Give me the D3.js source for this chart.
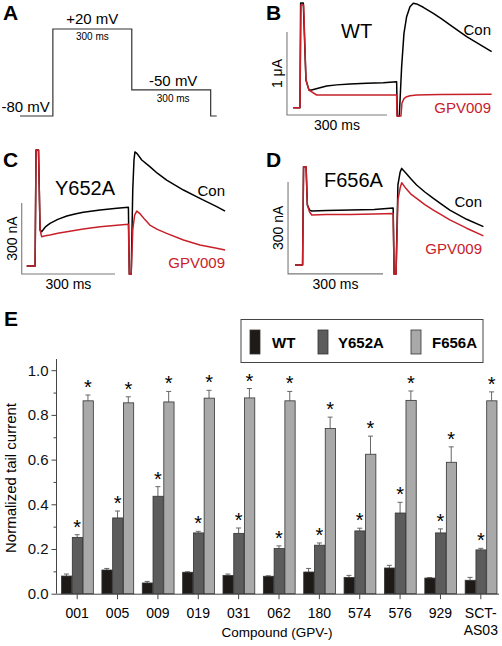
<!DOCTYPE html>
<html><head><meta charset="utf-8">
<script src="https://cdn.jsdelivr.net/npm/d3@7"></script>
<style>
html,body{margin:0;padding:0;background:#fff;}
svg{display:block;font-family:"Liberation Sans",Arial,Helvetica,sans-serif;}
</style></head>
<body>
<svg id="fig" width="502" height="646"></svg>
<script>
// ---------- DATA ----------
// Panel A: voltage protocol [time ms, mV]
const protocol = [[0,-80],[125,20],[425,-50],[725,-80],[748,-80]];
const protocolLabels = ["-80 mV","+20 mV","-50 mV"];
const stepDurationLabel = "300 ms";

// Panels B-D: current traces [time ms, current nA]
const traceB_con = [[0,0],[20,0],[22,1262],[30,1262],[38,334],[47,212],[55,213],[80,240],[100,261],[130,275],[170,286],[220,295],[270,301],[310,313],[312,-100],[318,-100],[325,494],[332,896],[340,1097],[350,1217],[360,1258],[370,1250],[390,1210],[420,1137],[445,1070],[470,997],[520,856],[570,735],[595,675]];
const traceB_gpv = [[0,0],[20,0],[23,1237],[31,1237],[38,334],[47,212],[70,153],[200,153],[310,153],[311,-100],[323,-100],[326,57],[332,110],[338,129],[350,145],[370,153],[440,159],[595,161]];
const traceC_con = [[0,0],[27,0],[30,490],[38,490],[43,152],[48,145],[60,165],[75,180],[100,197],[129,211],[155,220],[182,227],[236,237],[290,244],[327,248],[330,-35],[336,-35],[341,321],[345,448],[348,482],[355,475],[370,448],[396,420],[420,392],[450,363],[504,321],[557,286],[611,251],[638,232]];
const traceC_gpv = [[0,0],[27,0],[30,490],[38,490],[43,152],[48,124],[60,128],[75,131],[100,138],[129,145],[182,156],[236,166],[290,172],[327,176],[330,-35],[336,-35],[341,152],[347,215],[354,232],[365,220],[380,196],[396,173],[420,155],[450,138],[504,110],[557,89],[611,75],[638,68]];
const traceD_con = [[0,0],[24,0],[27,320],[35,320],[39,196],[46,179],[53,176],[100,178],[174,179],[250,181],[310,186],[313,-30],[319,-30],[325,261],[332,303],[337,315],[350,300],[365,282],[384,261],[410,238],[437,217],[460,200],[489,179],[542,149],[595,125]];
const traceD_gpv = [[0,0],[24,0],[27,320],[35,320],[39,196],[46,173],[53,163],[100,165],[174,165],[250,166],[310,168],[313,-30],[319,-30],[325,212],[332,251],[337,268],[350,250],[365,232],[384,217],[410,197],[437,179],[460,165],[489,147],[542,120],[595,95]];

// Panel E: normalized tail current
const compounds = ["001","005","009","019","031","062","180","574","576","929","SCT-AS03"];
const seriesNames = ["WT","Y652A","F656A"];
const wt       = [0.079,0.106,0.048,0.096,0.082,0.078,0.097,0.073,0.115,0.070,0.060];
const wtErr    = [0.009,0.007,0.007,0.002,0.006,0.002,0.016,0.009,0.012,0.002,0.013];
const y652a    = [0.252,0.339,0.436,0.272,0.270,0.202,0.217,0.281,0.361,0.272,0.196];
const y652aErr = [0.012,0.031,0.043,0.007,0.024,0.012,0.010,0.012,0.048,0.018,0.007];
const f656a    = [0.863,0.854,0.858,0.875,0.876,0.863,0.739,0.624,0.865,0.588,0.863];
const f656aErr = [0.026,0.027,0.047,0.035,0.042,0.042,0.051,0.081,0.042,0.069,0.040];
const significant = [false,true,true]; // per series
const yTicks = [0,0.2,0.4,0.6,0.8,1.0];

// ---------- DRAW ----------
const svg = d3.select("#fig");
const RED = "#c8202a";
const FONT = "'Liberation Sans',Arial,Helvetica,sans-serif";

function panelLabel(txt,x,y){
  svg.append("text").attr("x",x).attr("y",y).attr("font-size",21).attr("font-weight","bold").text(txt);
}

// Panel A
(function(){
  const x = d3.scaleLinear().domain([0,300]).range([20,20+78.9]);
  const y = d3.scaleLinear().domain([-80,20]).range([116,29]);
  const line = d3.line().x(d=>x(d[0])).y(d=>y(d[1])).curve(d3.curveStepAfter);
  svg.append("path").datum(protocol).attr("d",line).attr("fill","none").attr("stroke","#333").attr("stroke-width",1.2);
  panelLabel("A",3,20);
  const g = svg.append("g").attr("font-size",15);
  g.append("text").attr("x",1.5).attr("y",y(-80)-4).text(protocolLabels[0]);
  g.append("text").attr("x",(x(protocol[1][0])+x(protocol[2][0]))/2).attr("y",y(20)-5).attr("text-anchor","middle").text(protocolLabels[1]);
  g.append("text").attr("x",(x(protocol[2][0])+x(protocol[3][0]))/2+2).attr("y",y(-50)-4).attr("text-anchor","middle").text(protocolLabels[2]);
  svg.append("text").attr("x",(x(protocol[1][0])+x(protocol[2][0]))/2).attr("y",y(20)+10.5).attr("text-anchor","middle").attr("font-size",10).text(stepDurationLabel);
  svg.append("text").attr("x",(x(protocol[2][0])+x(protocol[3][0]))/2+2).attr("y",y(-50)+12.5).attr("text-anchor","middle").attr("font-size",10).text(stepDurationLabel);
})();

// Trace panels
function tracePanel(o){
  const x = d3.scaleLinear().domain([0,300]).range([o.x0,o.x0+o.pxPer300ms]);
  const y = d3.scaleLinear().domain([0,o.barNA]).range([o.y0,o.y0-o.pxPerBar]);
  const line = d3.line().x(d=>x(d[0])).y(d=>y(d[1]));
  // scale bar
  const sb = svg.append("g").attr("stroke","#7a7a7a").attr("stroke-width",1.1).attr("fill","none");
  sb.append("path").attr("d",`M${x(o.sbT)},${y(o.sbI+o.barNA)}V${y(o.sbI)}H${x(o.sbT+300)}`);
  svg.append("path").datum(o.con).attr("d",line).attr("fill","none").attr("stroke","#000").attr("stroke-width",1.5).attr("stroke-linejoin","round");
  svg.append("path").datum(o.gpv).attr("d",line).attr("fill","none").attr("stroke",RED).attr("stroke-width",1.5).attr("stroke-linejoin","round");
  panelLabel(o.label,o.lx,o.ly);
  svg.append("text").attr("x",o.tx).attr("y",o.ty).attr("font-size",20).text(o.title);
  svg.append("text").attr("x",o.endX).attr("y",o.conY).attr("text-anchor","end").attr("font-size",15).text("Con");
  svg.append("text").attr("x",o.endX).attr("y",o.gpvY).attr("text-anchor","end").attr("font-size",15).attr("fill",RED).text("GPV009");
  svg.append("text").attr("x",(x(o.sbT)+x(o.sbT+300))/2).attr("y",y(o.sbI)+15).attr("text-anchor","middle").attr("font-size",14).text("300 ms");
  const vx = x(o.sbT)-5, vy=(y(o.sbI)+y(o.sbI+o.barNA))/2;
  svg.append("text").attr("transform",`translate(${vx},${vy}) rotate(-90)`).attr("text-anchor","middle").attr("font-size",14).text(o.barLabel);
}

tracePanel({label:"B",lx:266,ly:20,title:"WT",tx:341,ty:38,x0:293.3,pxPer300ms:100,y0:107.7,pxPerBar:83,barNA:1000,barLabel:"1 μA",
  sbT:-19,sbI:-88,con:traceB_con,gpv:traceB_gpv,endX:491,conY:35,gpvY:113});
tracePanel({label:"C",lx:3,ly:167,title:"Y652A",tx:55,ty:195,x0:26.7,pxPer300ms:93.3,y0:266,pxPerBar:71,barNA:300,barLabel:"300 nA",
  sbT:-16,sbI:-34,con:traceC_con,gpv:traceC_gpv,endX:225,conY:196,gpvY:268});
tracePanel({label:"D",lx:266,ly:167,title:"F656A",tx:324,ty:187,x0:295,pxPer300ms:95,y0:265,pxPerBar:92,barNA:300,barLabel:"300 nA",
  sbT:-22,sbI:-29,con:traceD_con,gpv:traceD_gpv,endX:482,conY:207,gpvY:254});

// Panel E
(function(){
  panelLabel("E",4,326);
  const vals = [wt,y652a,f656a], errs=[wtErr,y652aErr,f656aErr];
  const colors = ["#1e1a18","#5c5c5c","#a9a9a9"];
  const y = d3.scaleLinear().domain([0,1.05]).range([593.7,593.7-1.05*223.5]);
  const x0 = d3.scaleBand().domain(compounds).range([57,501]).paddingInner(0.2).paddingOuter(0.1);
  const x1 = d3.scaleBand().domain(seriesNames).range([0,x0.bandwidth()]).padding(0);
  const data = compounds.map((c,i)=>({c, items: seriesNames.map((s,j)=>({s,j,v:vals[j][i],e:errs[j][i]}))}));

  // axes
  const ax = svg.append("g").attr("stroke","#444").attr("fill","none").attr("stroke-width",1);
  ax.append("line").attr("x1",56.5).attr("x2",56.5).attr("y1",y(0)).attr("y2",y(1.05));
  ax.append("line").attr("x1",56.5).attr("x2",499).attr("y1",y(0)+0.5).attr("y2",y(0)+0.5);
  const yAxis = d3.axisLeft(y).tickValues(yTicks).tickFormat(d3.format(".1f")).tickSize(5).tickPadding(3);
  const ga = svg.append("g").attr("transform","translate(56.5,0)").call(yAxis);
  ga.select(".domain").remove();
  ga.selectAll("line").attr("stroke","#444");
  ga.selectAll("text").attr("font-size",15).attr("font-family",FONT).attr("fill","#111");
  const minor = d3.axisLeft(y).tickValues([0.1,0.3,0.5,0.7,0.9]).tickFormat("").tickSize(3);
  const gm = svg.append("g").attr("transform","translate(56.5,0)").call(minor);
  gm.select(".domain").remove(); gm.selectAll("line").attr("stroke","#444");

  const xAxis = d3.axisBottom(x0).tickSize(5).tickFormat("");
  const gx = svg.append("g").attr("transform",`translate(0,${y(0)+0.5})`).call(xAxis);
  gx.select(".domain").remove(); gx.selectAll("line").attr("stroke","#444");
  // x tick labels (allow two-line label)
  compounds.forEach(c=>{
    const parts = c.includes("-") ? [c.split("-")[0]+"-", c.split("-")[1]] : [c];
    const t = svg.append("text").attr("text-anchor","middle").attr("font-size",14);
    parts.forEach((p,k)=>t.append("tspan").attr("x",x0(c)+x0.bandwidth()/2).attr("y",618+k*17).text(p));
  });
  svg.append("text").attr("x",277).attr("y",637).attr("text-anchor","middle").attr("font-size",13.5).text("Compound (GPV-)");
  svg.append("text").attr("transform","translate(16,478) rotate(-90)").attr("text-anchor","middle").attr("font-size",15).text("Normalized tail current");

  // bars
  const groups = svg.selectAll("g.grp").data(data).join("g").attr("class","grp").attr("transform",d=>`translate(${x0(d.c)},0)`);
  // error bars
  groups.selectAll("path.err").data(d=>d.items).join("path").attr("class","err")
    .attr("d",d=>{const cx=x1(d.s)+x1.bandwidth()/2; return `M${cx},${y(d.v)}V${y(d.v+d.e)}M${cx-2.5},${y(d.v+d.e)}H${cx+2.5}`;})
    .attr("stroke","#666").attr("stroke-width",1).attr("fill","none");
  groups.selectAll("rect").data(d=>d.items).join("rect")
    .attr("x",d=>x1(d.s)+0.5).attr("width",x1.bandwidth()-0.5)
    .attr("y",d=>y(d.v)).attr("height",d=>y(0)-y(d.v))
    .attr("fill",d=>colors[d.j]).attr("stroke","#333").attr("stroke-width",0.8);
  groups.selectAll("text.star").data(d=>d.items.filter(it=>significant[it.j])).join("text").attr("class","star")
    .attr("x",d=>x1(d.s)+x1.bandwidth()/2).attr("y",d=>y(d.v+d.e)-1).attr("text-anchor","middle").attr("font-size",20).text("*");

  // legend
  const lg = svg.append("g");
  lg.append("rect").attr("x",241).attr("y",319.5).attr("width",242).attr("height",43).attr("fill","#fff").attr("stroke","#444").attr("stroke-width",1);
  const lx = [250,318,411], tx=[272,338,432];
  seriesNames.forEach((s,j)=>{
    lg.append("rect").attr("x",lx[j]).attr("y",330).attr("width",10).attr("height",24).attr("fill",colors[j]).attr("stroke","#333").attr("stroke-width",0.8);
    lg.append("text").attr("x",tx[j]).attr("y",348).attr("font-size",15).attr("font-weight","bold").text(s);
  });
})();
</script>
</body></html>
